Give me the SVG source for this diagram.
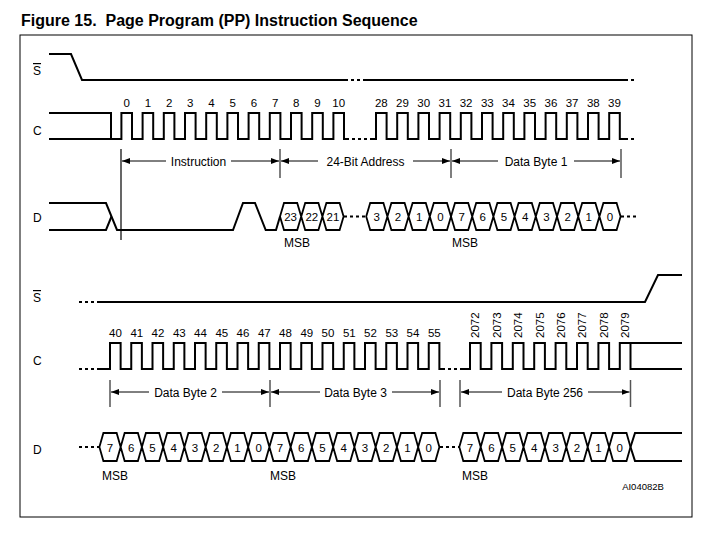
<svg xmlns="http://www.w3.org/2000/svg" width="725" height="546" viewBox="0 0 725 546">
<style>
text{font-family:"Liberation Sans",Arial,sans-serif;fill:#000}
.t{font-size:12px}
.n{font-size:11.5px;text-anchor:middle}
.h{font-size:11.5px;text-anchor:middle}
.s{fill:none;stroke:#000;stroke-width:2}
.d{fill:none;stroke:#000;stroke-width:2;stroke-dasharray:3 3}
.hx{fill:none;stroke:#000;stroke-width:1.8;stroke-linejoin:miter}
.a{stroke:#000;stroke-width:1;marker-end:url(#ah)}
.m{stroke:#555;stroke-width:1.5}
</style>
<defs>
<marker id="ah" markerUnits="userSpaceOnUse" markerWidth="9" markerHeight="7" refX="8" refY="3" orient="auto"><path d="M0,0 L8,3 L0,6 z" fill="#000"/></marker>
</defs>
<rect x="20" y="35" width="672" height="482" fill="none" stroke="#000" stroke-width="1"/>
<text x="21" y="26" xml:space="preserve" style="font-size:16px;font-weight:bold">Figure 15.  Page Program (PP) Instruction Sequence</text>

<g id="labels">
<text x="33" y="75" class="t" text-decoration="overline">S</text>
<text x="33" y="135" class="t">C</text>
<text x="33" y="222" class="t">D</text>
<text x="33" y="302" class="t" text-decoration="overline">S</text>
<text x="33" y="365" class="t">C</text>
<text x="33" y="454" class="t">D</text>
<text x="643" y="490" style="font-size:9.5px" text-anchor="middle">AI04082B</text>
</g>

<g id="S-top">
<path class="s" d="M49 54 H71 L82 80 H345"/>
<path class="d" d="M345 80 H366"/>
<path class="s" d="M366 80 H625"/>
<path class="d" d="M625 80 H637"/>
</g>

<g id="C-top">
<path class="s" d="M49 139 H111"/>
<path class="s" d="M49 113 H111 V139 H121.4 v-26h10.6v26h10.6 v-26h10.6v26h10.6 v-26h10.6v26h10.6 v-26h10.6v26h10.6 v-26h10.6v26h10.6 v-26h10.6v26h10.6 v-26h10.6v26h10.6 v-26h10.6v26h10.6 v-26h10.6v26h10.6 v-26h10.6v26h10.6 v-26h10.6v26h2"/>
<path class="d" d="M346 139 H372"/>
<path class="s" d="M372 139 H376 v-26h10.6v26h10.6 v-26h10.6v26h10.6 v-26h10.6v26h10.6 v-26h10.6v26h10.6 v-26h10.6v26h10.6 v-26h10.6v26h10.6 v-26h10.6v26h10.6 v-26h10.6v26h10.6 v-26h10.6v26h10.6 v-26h10.6v26h10.6 v-26h10.6v26h10.6 v-26h10.6v26h5.2"/>
<path class="d" d="M625 139 H637"/>
<text class="n" x="126.7" y="107">0</text><text class="n" x="147.9" y="107">1</text><text class="n" x="169.1" y="107">2</text><text class="n" x="190.3" y="107">3</text><text class="n" x="211.5" y="107">4</text><text class="n" x="232.7" y="107">5</text><text class="n" x="253.9" y="107">6</text><text class="n" x="275.1" y="107">7</text><text class="n" x="296.3" y="107">8</text><text class="n" x="317.5" y="107">9</text><text class="n" x="338.7" y="107">10</text>
<text class="n" x="381.3" y="107">28</text><text class="n" x="402.5" y="107">29</text><text class="n" x="423.7" y="107">30</text><text class="n" x="444.9" y="107">31</text><text class="n" x="466.1" y="107">32</text><text class="n" x="487.3" y="107">33</text><text class="n" x="508.5" y="107">34</text><text class="n" x="529.7" y="107">35</text><text class="n" x="550.9" y="107">36</text><text class="n" x="572.1" y="107">37</text><text class="n" x="593.3" y="107">38</text><text class="n" x="614.5" y="107">39</text>
</g>

<g id="spans-top">
<line x1="121" y1="149" x2="121" y2="240" stroke="#000" stroke-width="1.2"/>
<line class="m" x1="280" y1="149" x2="280" y2="178"/>
<line class="m" x1="451" y1="149" x2="451" y2="178"/>
<line class="m" x1="621" y1="149" x2="621" y2="178"/>
<line class="a" x1="166" y1="161" x2="122" y2="161"/>
<line class="a" x1="231" y1="161" x2="279" y2="161"/>
<text class="t" x="198.5" y="165.5" text-anchor="middle">Instruction</text>
<line class="a" x1="318" y1="161" x2="281" y2="161"/>
<line class="a" x1="413" y1="161" x2="450" y2="161"/>
<text class="t" x="365.5" y="165.5" text-anchor="middle">24-Bit Address</text>
<line class="a" x1="498" y1="161" x2="452" y2="161"/>
<line class="a" x1="574" y1="161" x2="620" y2="161"/>
<text class="t" x="536" y="165.5" text-anchor="middle">Data Byte 1</text>
</g>

<g id="D-top">
<path class="s" d="M49 203 H106 L117 230 H233 L243 203 H255 L265.7 230 H276 L280 216.5"/>
<path class="s" d="M49 230 H106 L111.5 216.5"/>
<path class="hx" d="M280 216.5 L284 203 H297.2 L301.2 216.5 L297.2 230 H284 Z M301.2 216.5 L305.2 203 H318.4 L322.4 216.5 L318.4 230 H305.2 Z M322.4 216.5 L326.4 203 H339.6 L343.6 216.5 L339.6 230 H326.4 Z"/>
<path class="d" d="M344 216.5 H366"/>
<path class="hx" d="M366.2 216.5 l4 -13.5 h13.2 l4 13.5 l-4 13.5 h-13.2 z M387.4 216.5 l4 -13.5 h13.2 l4 13.5 l-4 13.5 h-13.2 z M408.6 216.5 l4 -13.5 h13.2 l4 13.5 l-4 13.5 h-13.2 z M429.8 216.5 l4 -13.5 h13.2 l4 13.5 l-4 13.5 h-13.2 z M451 216.5 l4 -13.5 h13.2 l4 13.5 l-4 13.5 h-13.2 z M472.2 216.5 l4 -13.5 h13.2 l4 13.5 l-4 13.5 h-13.2 z M493.4 216.5 l4 -13.5 h13.2 l4 13.5 l-4 13.5 h-13.2 z M514.6 216.5 l4 -13.5 h13.2 l4 13.5 l-4 13.5 h-13.2 z M535.8 216.5 l4 -13.5 h13.2 l4 13.5 l-4 13.5 h-13.2 z M557 216.5 l4 -13.5 h13.2 l4 13.5 l-4 13.5 h-13.2 z M578.2 216.5 l4 -13.5 h13.2 l4 13.5 l-4 13.5 h-13.2 z M599.4 216.5 l4 -13.5 h13.2 l4 13.5 l-4 13.5 h-13.2 z"/>
<path class="d" d="M621 216.5 H637"/>
<text class="h" x="290.6" y="221">23</text><text class="h" x="311.8" y="221">22</text><text class="h" x="333" y="221">21</text>
<text class="h" x="376.8" y="221">3</text><text class="h" x="398" y="221">2</text><text class="h" x="419.2" y="221">1</text><text class="h" x="440.4" y="221">0</text><text class="h" x="461.6" y="221">7</text><text class="h" x="482.8" y="221">6</text><text class="h" x="504" y="221">5</text><text class="h" x="525.2" y="221">4</text><text class="h" x="546.4" y="221">3</text><text class="h" x="567.6" y="221">2</text><text class="h" x="588.8" y="221">1</text><text class="h" x="610" y="221">0</text>
<text class="t" x="297" y="247" text-anchor="middle">MSB</text>
<text class="t" x="465" y="247" text-anchor="middle">MSB</text>
</g>

<g id="S-bottom">
<path class="d" d="M79 302 H100"/>
<path class="s" d="M100 302 H645 L658 275 H682"/>
</g>

<g id="C-bottom">
<path class="d" d="M79 369 H100"/>
<path class="s" d="M100 369 H110 v-26h10.625v26h10.625 v-26h10.625v26h10.625 v-26h10.625v26h10.625 v-26h10.625v26h10.625 v-26h10.625v26h10.625 v-26h10.625v26h10.625 v-26h10.625v26h10.625 v-26h10.625v26h10.625 v-26h10.625v26h10.625 v-26h10.625v26h10.625 v-26h10.625v26h10.625 v-26h10.625v26h10.625 v-26h10.625v26h10.625 v-26h10.625v26h10.625 v-26h10.625v26h10.625 v-26h10.625v26h3"/>
<path class="d" d="M442 369 H462"/>
<path class="s" d="M462 369 H470 v-26h10.7v26h10.7 v-26h10.7v26h10.7 v-26h10.7v26h10.7 v-26h10.7v26h10.7 v-26h10.7v26h10.7 v-26h10.7v26h10.7 v-26h10.7v26h10.7 v-26h10.7v26 H682"/>
<path class="s" d="M630.5 343 H682"/>
<text class="n" x="115.5" y="337">40</text><text class="n" x="136.8" y="337">41</text><text class="n" x="158" y="337">42</text><text class="n" x="179.3" y="337">43</text><text class="n" x="200.5" y="337">44</text><text class="n" x="221.8" y="337">45</text><text class="n" x="243" y="337">46</text><text class="n" x="264.3" y="337">47</text><text class="n" x="285.5" y="337">48</text><text class="n" x="306.8" y="337">49</text><text class="n" x="328" y="337">50</text><text class="n" x="349.3" y="337">51</text><text class="n" x="370.5" y="337">52</text><text class="n" x="391.8" y="337">53</text><text class="n" x="413" y="337">54</text><text class="n" x="434.3" y="337">55</text>
<g style="font-size:11.5px;text-anchor:start" dominant-baseline="central">
<text transform="translate(475.3,338) rotate(-90)">2072</text>
<text transform="translate(496.7,338) rotate(-90)">2073</text>
<text transform="translate(518.1,338) rotate(-90)">2074</text>
<text transform="translate(539.5,338) rotate(-90)">2075</text>
<text transform="translate(560.9,338) rotate(-90)">2076</text>
<text transform="translate(582.3,338) rotate(-90)">2077</text>
<text transform="translate(603.7,338) rotate(-90)">2078</text>
<text transform="translate(625.1,338) rotate(-90)">2079</text>
</g>
</g>

<g id="spans-bottom">
<line class="m" x1="110" y1="380" x2="110" y2="407"/>
<line class="m" x1="270" y1="380" x2="270" y2="407"/>
<line class="m" x1="440" y1="380" x2="440" y2="407"/>
<line class="m" x1="460" y1="380" x2="460" y2="407"/>
<line class="m" x1="630.5" y1="380" x2="630.5" y2="407"/>
<line class="a" x1="149" y1="392" x2="111" y2="392"/>
<line class="a" x1="222" y1="392" x2="269" y2="392"/>
<text class="t" x="185.5" y="396.5" text-anchor="middle">Data Byte 2</text>
<line class="a" x1="320" y1="392" x2="271" y2="392"/>
<line class="a" x1="392" y1="392" x2="439" y2="392"/>
<text class="t" x="355.5" y="396.5" text-anchor="middle">Data Byte 3</text>
<line class="a" x1="502" y1="392" x2="461" y2="392"/>
<line class="a" x1="588" y1="392" x2="629.5" y2="392"/>
<text class="t" x="545" y="396.5" text-anchor="middle">Data Byte 256</text>
</g>

<g id="D-bottom">
<path class="d" d="M79 447 H99"/>
<path class="hx" d="M99.4 447 l4 -14 h13.25 l4 14 l-4 14 h-13.25 z M120.65 447 l4 -14 h13.25 l4 14 l-4 14 h-13.25 z M141.9 447 l4 -14 h13.25 l4 14 l-4 14 h-13.25 z M163.15 447 l4 -14 h13.25 l4 14 l-4 14 h-13.25 z M184.4 447 l4 -14 h13.25 l4 14 l-4 14 h-13.25 z M205.65 447 l4 -14 h13.25 l4 14 l-4 14 h-13.25 z M226.9 447 l4 -14 h13.25 l4 14 l-4 14 h-13.25 z M248.15 447 l4 -14 h13.25 l4 14 l-4 14 h-13.25 z M269.4 447 l4 -14 h13.25 l4 14 l-4 14 h-13.25 z M290.65 447 l4 -14 h13.25 l4 14 l-4 14 h-13.25 z M311.9 447 l4 -14 h13.25 l4 14 l-4 14 h-13.25 z M333.15 447 l4 -14 h13.25 l4 14 l-4 14 h-13.25 z M354.4 447 l4 -14 h13.25 l4 14 l-4 14 h-13.25 z M375.65 447 l4 -14 h13.25 l4 14 l-4 14 h-13.25 z M396.9 447 l4 -14 h13.25 l4 14 l-4 14 h-13.25 z M418.15 447 l4 -14 h13.25 l4 14 l-4 14 h-13.25 z"/>
<path class="d" d="M440 447 H459"/>
<path class="hx" d="M459.3 447 l4 -14 h13.4 l4 14 l-4 14 h-13.4 z M480.7 447 l4 -14 h13.4 l4 14 l-4 14 h-13.4 z M502.1 447 l4 -14 h13.4 l4 14 l-4 14 h-13.4 z M523.5 447 l4 -14 h13.4 l4 14 l-4 14 h-13.4 z M544.9 447 l4 -14 h13.4 l4 14 l-4 14 h-13.4 z M566.3 447 l4 -14 h13.4 l4 14 l-4 14 h-13.4 z M587.7 447 l4 -14 h13.4 l4 14 l-4 14 h-13.4 z M609.1 447 l4 -14 h13.4 l4 14 l-4 14 h-13.4 z"/>
<path class="s" d="M630.5 447 L635 433 H682 M630.5 447 L635 461 H682"/>
<text class="h" x="110" y="451.5">7</text><text class="h" x="131.3" y="451.5">6</text><text class="h" x="152.5" y="451.5">5</text><text class="h" x="173.8" y="451.5">4</text><text class="h" x="195" y="451.5">3</text><text class="h" x="216.3" y="451.5">2</text><text class="h" x="237.5" y="451.5">1</text><text class="h" x="258.8" y="451.5">0</text><text class="h" x="280" y="451.5">7</text><text class="h" x="301.3" y="451.5">6</text><text class="h" x="322.5" y="451.5">5</text><text class="h" x="343.8" y="451.5">4</text><text class="h" x="365" y="451.5">3</text><text class="h" x="386.3" y="451.5">2</text><text class="h" x="407.5" y="451.5">1</text><text class="h" x="428.8" y="451.5">0</text>
<text class="h" x="470" y="451.5">7</text><text class="h" x="491.4" y="451.5">6</text><text class="h" x="512.8" y="451.5">5</text><text class="h" x="534.2" y="451.5">4</text><text class="h" x="555.6" y="451.5">3</text><text class="h" x="577" y="451.5">2</text><text class="h" x="598.4" y="451.5">1</text><text class="h" x="619.8" y="451.5">0</text>
<text class="t" x="115" y="480" text-anchor="middle">MSB</text>
<text class="t" x="283" y="480" text-anchor="middle">MSB</text>
<text class="t" x="475" y="480" text-anchor="middle">MSB</text>
</g>
</svg>
